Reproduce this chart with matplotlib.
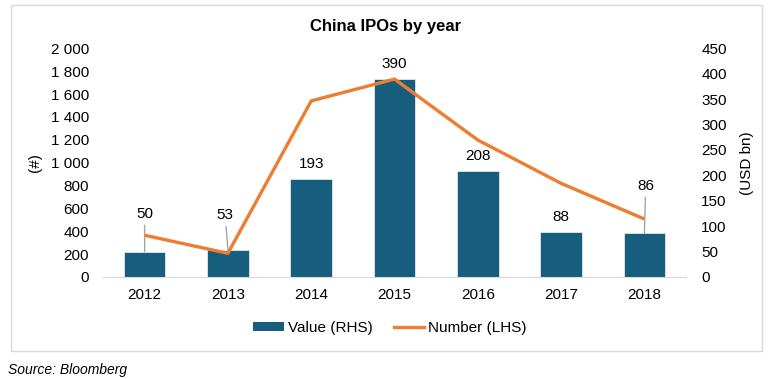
import matplotlib
matplotlib.use("Agg")
import matplotlib.pyplot as plt
from matplotlib.patches import Patch, Rectangle
from matplotlib.lines import Line2D

plt.rcParams['font.family'] = ['Liberation Sans', 'DejaVu Sans']

years = ['2012', '2013', '2014', '2015', '2016', '2017', '2018']
value_usd_bn = [50, 53, 193, 390, 208, 88, 86]
number_ipos = [365, 207, 1540, 1731, 1198, 819, 507]
left_ticks = [0, 200, 400, 600, 800, 1000, 1200, 1400, 1600, 1800, 2000]
right_ticks = [0, 50, 100, 150, 200, 250, 300, 350, 400, 450]

BAR = '#175E7E'
ORANGE = '#ED7D31'

W, H = 770, 379
fig = plt.figure(figsize=(W / 100, H / 100), dpi=100)

# outer border
fig.add_artist(Rectangle((11 / W, 1 - 351 / H), (762 - 11) / W, (351 - 5) / H,
                         transform=fig.transFigure, fill=False,
                         edgecolor='#d9d9d9', linewidth=1))

x0, x1, ytop, ybot = 103, 686, 48.3, 277
ax = fig.add_axes([x0 / W, 1 - ybot / H, (x1 - x0) / W, (ybot - ytop) / H])
ax2 = ax.twinx()

x = list(range(len(years)))
ax2.bar(x, value_usd_bn, width=0.5, color=BAR, edgecolor='#dfe8ee', linewidth=0.6, zorder=2)
ax.plot(x, number_ipos, color=ORANGE, linewidth=2.4, solid_capstyle='butt', zorder=5)

ax.set_zorder(ax2.get_zorder() + 1)
ax.patch.set_visible(False)

ax.set_xlim(-0.5, 6.5)
ax.set_ylim(0, 2000)
ax2.set_ylim(0, 450)
ax.set_yticks(left_ticks)
ax.set_yticklabels([f"{v:,}".replace(',', ' ') for v in left_ticks])
ax2.set_yticks(right_ticks)
ax2.set_yticklabels([str(v) for v in right_ticks])
ax.set_xticks(x)
ax.set_xticklabels(years)

for a in (ax, ax2):
    for s in a.spines.values():
        s.set_visible(False)
    a.tick_params(length=0, labelsize=11, colors='#000000')
ax.spines['bottom'].set_visible(True)
ax.spines['bottom'].set_color('#d9d9d9')
ax.tick_params(axis='x', pad=8)
ax.tick_params(axis='y', pad=10)
ax2.tick_params(axis='y', pad=11)

ax.set_ylabel('(#)', fontsize=11)
ax2.set_ylabel('(USD bn)', fontsize=11)
ax.yaxis.set_label_coords((42 - x0) / (x1 - x0), (ybot - 163) / (ybot - ytop))
ax2.yaxis.set_label_coords((740 - x0) / (x1 - x0), (ybot - 163) / (ybot - ytop))

# data labels
offsets = {0: (0, 27), 1: (-2, 25), 6: (1, 34)}
for i, v in enumerate(value_usd_bn):
    if i in offsets:
        dx, dy = offsets[i]
        ax2.annotate(str(v), xy=(i, v), xytext=(dx, dy), textcoords='offset points',
                     ha='center', va='center', fontsize=11, zorder=6,
                     arrowprops=dict(arrowstyle='-', color='#a6a6a6', lw=1,
                                     shrinkA=1, shrinkB=0))
    else:
        ax2.annotate(str(v), xy=(i, v), xytext=(0, 11), textcoords='offset points',
                     ha='center', va='center', fontsize=11)

fig.text(386 / W, 1 - 27 / H, 'China IPOs by year', ha='center', va='center',
         fontsize=12, fontweight='bold')

handles = [Patch(facecolor=BAR, edgecolor='none'),
           Line2D([0], [0], color=ORANGE, linewidth=2.4)]
fig.legend(handles, ['Value (RHS)', 'Number (LHS)'], loc='center',
           bbox_to_anchor=(390 / W, 1 - 328 / H), ncol=2, frameon=False,
           fontsize=11, handlelength=2.0, handletextpad=0.25, columnspacing=1.4,
           handleheight=0.5, borderpad=0, borderaxespad=0)

fig.text(8 / W, 1 - 370 / H, 'Source: Bloomberg', ha='left', va='center',
         fontsize=10, style='italic')

fig.savefig('out.png', dpi=100)
